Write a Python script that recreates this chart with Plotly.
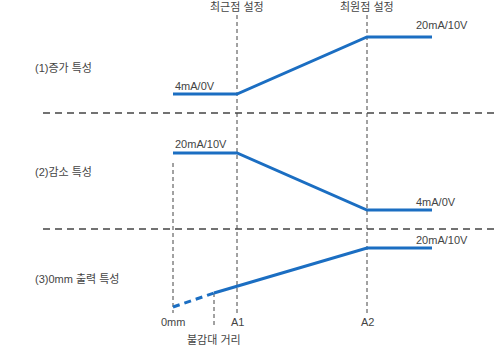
import plotly.graph_objects as go

# Distance positions (chart units)
pos_names = ["0mm", "A1", "A2"]
pos_x = [173, 237, 367]
dead_x = 214
end_x = 432

# Panel 1: increase characteristic
inc_x = [173, 237, 367, 432]
inc_y = [94, 94, 37, 37]
# Panel 2: decrease characteristic
dec_x = [173, 237, 367, 432]
dec_y = [153, 153, 210, 210]
# Panel 3: 0mm output characteristic
zero_dash_x = [173, 214]
zero_dash_y = [307, 293]
zero_solid_x = [214, 367, 432]
zero_solid_y = [293, 248, 248]

separators_y = [113, 229]

BLUE = "#1b6ec2"
GRAY = "#444444"
FONT = "Liberation Sans, Noto Sans CJK KR"

fig = go.Figure()

# vertical dashed guide lines
vlines = [(237, 15, 313), (367, 15, 313), (173, 163, 313), (dead_x, 293, 327)]
for x, y0, y1 in vlines:
    fig.add_trace(go.Scatter(x=[x, x], y=[y0, y1], mode="lines",
                             line=dict(color=GRAY, width=1, dash="4px,3px"),
                             hoverinfo="skip", showlegend=False))
# horizontal separators
for y in separators_y:
    fig.add_trace(go.Scatter(x=[43, 496], y=[y, y], mode="lines",
                             line=dict(color=GRAY, width=1.3, dash="7px,5px"),
                             hoverinfo="skip", showlegend=False))

for xs, ys, d in [(inc_x, inc_y, "solid"), (dec_x, dec_y, "solid"),
                  (zero_solid_x, zero_solid_y, "solid"),
                  (zero_dash_x, zero_dash_y, "7px,5px")]:
    fig.add_trace(go.Scatter(x=xs, y=ys, mode="lines",
                             line=dict(color=BLUE, width=3, dash=d),
                             hoverinfo="skip", showlegend=False))

texts = [
    ("최근점 설정", 237, 7, "center"),
    ("최원점 설정", 367, 7, "center"),
    ("(1)증가 특성", 33, 68, "left"),
    ("(2)감소 특성", 33, 172, "left"),
    ("(3)0mm 출력 특성", 33, 279, "left"),
    ("4mA/0V", 173, 86, "left"),
    ("20mA/10V", 173, 144, "left"),
    ("20mA/10V", 414, 25, "left"),
    ("4mA/0V", 414, 202, "left"),
    ("20mA/10V", 414, 240, "left"),
    ("불감대 거리", 214, 340, "center"),
]
for i, n in enumerate(pos_names):
    texts.append((n, pos_x[i], 322, "center"))

for t, x, y, a in texts:
    fig.add_annotation(x=x, y=y, text=t, showarrow=False, xanchor=a,
                       yanchor="middle", xref="x", yref="y",
                       font=dict(family=FONT, size=11, color="#444444"))

fig.update_layout(
    width=500, height=351, margin=dict(l=0, r=0, t=0, b=0),
    paper_bgcolor="white", plot_bgcolor="white",
    xaxis=dict(range=[0, 500], visible=False, fixedrange=True),
    yaxis=dict(range=[351, 0], visible=False, fixedrange=True),
)
fig.write_html("out.html")
